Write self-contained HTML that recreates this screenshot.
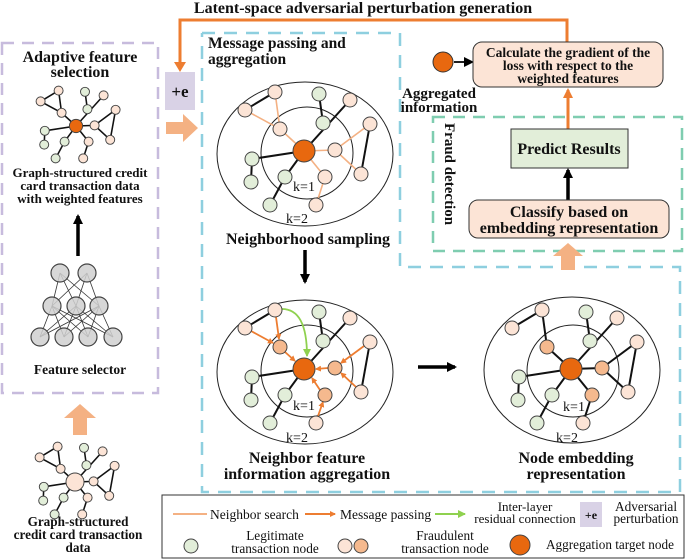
<!DOCTYPE html>
<html><head><meta charset="utf-8"><style>
html,body{margin:0;padding:0;background:#fff}
svg{display:block}
text{font-family:"Liberation Serif",serif;fill:#111}
.b{font-weight:bold}
</style></head><body>
<svg width="685" height="559" viewBox="0 0 685 559" xmlns="http://www.w3.org/2000/svg">
<defs>
<marker id="mo" markerWidth="6" markerHeight="6" refX="5" refY="3" orient="auto" markerUnits="userSpaceOnUse"><path d="M0,0 L6,3 L0,6z" fill="#ed7d31"/></marker>
<marker id="mg" markerWidth="8" markerHeight="8" refX="7" refY="4" orient="auto" markerUnits="userSpaceOnUse"><path d="M0,0 L8,4 L0,8z" fill="#8fd14f"/></marker>
<marker id="mk" markerWidth="10" markerHeight="10" refX="8" refY="5" orient="auto" markerUnits="userSpaceOnUse"><path d="M0,0 L10,5 L0,10z" fill="#000"/></marker>
<marker id="mo2" markerWidth="10" markerHeight="10" refX="8" refY="5" orient="auto" markerUnits="userSpaceOnUse"><path d="M0,0 L10,5 L0,10z" fill="#ed7d31"/></marker>
</defs>

<text x="363" y="13" text-anchor="middle" class="b" font-size="16">Latent-space adversarial perturbation generation</text>
<polyline points="180,64 180,20 567,20 567,42" fill="none" stroke="#ed7d31" stroke-width="3"/>
<path d="M174,62 L186,62 L180,72z" fill="#ed7d31"/>

<rect x="2" y="43" width="156" height="350" fill="none" stroke="#c7bbdd" stroke-width="2.5" stroke-dasharray="12,8"/>
<text x="80" y="62" text-anchor="middle" class="b" font-size="16">Adaptive feature</text>
<text x="80" y="77" text-anchor="middle" class="b" font-size="16">selection</text>

<g transform="translate(76,126) scale(0.6)" stroke="#111" stroke-width="2.6">
<line x1="-59" y1="-41" x2="-29" y2="-59"/><line x1="-29" y1="-59" x2="-24" y2="-22"/><line x1="-59" y1="-41" x2="-24" y2="-22"/><line x1="-24" y1="-22" x2="0" y2="0"/>
<line x1="15" y1="-57" x2="19" y2="-28"/><line x1="0" y1="0" x2="46" y2="-51"/><line x1="0" y1="0" x2="31" y2="-1"/><line x1="31" y1="-1" x2="66" y2="-27"/><line x1="31" y1="-1" x2="57" y2="23"/><line x1="66" y1="-27" x2="57" y2="23"/>
<line x1="0" y1="0" x2="21" y2="26"/><line x1="21" y1="26" x2="12" y2="54"/><line x1="0" y1="0" x2="-19" y2="26"/><line x1="-19" y1="26" x2="-34" y2="54"/><line x1="0" y1="0" x2="-52" y2="8"/><line x1="-52" y1="8" x2="-53" y2="31"/>
<g stroke="#444" stroke-width="1.6">
<circle cx="-59" cy="-41" r="7.5" fill="#fce4d6"/><circle cx="-29" cy="-59" r="7.5" fill="#fce4d6"/><circle cx="-24" cy="-22" r="7.5" fill="#fce4d6"/>
<circle cx="15" cy="-57" r="7.5" fill="#e2eed9"/><circle cx="19" cy="-28" r="7.5" fill="#e2eed9"/><circle cx="46" cy="-51" r="7.5" fill="#fce4d6"/>
<circle cx="66" cy="-27" r="7.5" fill="#fce4d6"/><circle cx="31" cy="-1" r="7.5" fill="#fce4d6"/><circle cx="57" cy="23" r="7.5" fill="#fce4d6"/>
<circle cx="21" cy="26" r="7.5" fill="#fce4d6"/><circle cx="12" cy="54" r="7.5" fill="#fce4d6"/><circle cx="-19" cy="26" r="7.5" fill="#e2eed9"/>
<circle cx="-34" cy="54" r="7.5" fill="#e2eed9"/><circle cx="-52" cy="8" r="7.5" fill="#e2eed9"/><circle cx="-53" cy="31" r="7.5" fill="#e2eed9"/>
<circle cx="0" cy="0" r="11" fill="#e8680f"/>
</g></g>
<text x="80" y="177" text-anchor="middle" class="b" font-size="13">Graph-structured credit</text>
<text x="80" y="190" text-anchor="middle" class="b" font-size="13">card transaction data</text>
<text x="80" y="203" text-anchor="middle" class="b" font-size="13">with weighted features</text>
<line x1="78" y1="256" x2="78" y2="216" stroke="#000" stroke-width="3.5" marker-end="url(#mk)"/>

<g stroke="#333" stroke-width="0.8">
<line x1="60" y1="273" x2="52" y2="306"/><line x1="60" y1="273" x2="76" y2="306"/><line x1="60" y1="273" x2="99" y2="306"/>
<line x1="87" y1="273" x2="52" y2="306"/><line x1="87" y1="273" x2="76" y2="306"/><line x1="87" y1="273" x2="99" y2="306"/>
<line x1="52" y1="306" x2="40" y2="337"/><line x1="52" y1="306" x2="64" y2="337"/><line x1="52" y1="306" x2="88" y2="337"/><line x1="52" y1="306" x2="113" y2="337"/>
<line x1="76" y1="306" x2="40" y2="337"/><line x1="76" y1="306" x2="64" y2="337"/><line x1="76" y1="306" x2="88" y2="337"/><line x1="76" y1="306" x2="113" y2="337"/>
<line x1="99" y1="306" x2="40" y2="337"/><line x1="99" y1="306" x2="64" y2="337"/><line x1="99" y1="306" x2="88" y2="337"/><line x1="99" y1="306" x2="113" y2="337"/>
<g fill="#d0d0d0" stroke="#444" stroke-width="1.2" fill-opacity="0.85">
<circle cx="60" cy="273" r="9"/><circle cx="87" cy="273" r="9"/>
<circle cx="52" cy="306" r="9"/><circle cx="76" cy="306" r="9"/><circle cx="99" cy="306" r="9"/>
<circle cx="40" cy="337" r="9"/><circle cx="64" cy="337" r="9"/><circle cx="88" cy="337" r="9"/><circle cx="113" cy="337" r="9"/>
</g></g>
<text x="80" y="374" text-anchor="middle" class="b" font-size="13.5">Feature selector</text>

<path d="M73,435 L73,418 L64,418 L80,404 L96,418 L87,418 L87,435z" fill="#f4b183"/>

<g transform="translate(75,482) scale(0.6)" stroke="#111" stroke-width="2.6">
<line x1="-59" y1="-41" x2="-29" y2="-59"/><line x1="-29" y1="-59" x2="-24" y2="-22"/><line x1="-59" y1="-41" x2="-24" y2="-22"/><line x1="-24" y1="-22" x2="0" y2="0"/>
<line x1="15" y1="-57" x2="19" y2="-28"/><line x1="0" y1="0" x2="46" y2="-51"/><line x1="0" y1="0" x2="31" y2="-1"/><line x1="31" y1="-1" x2="66" y2="-27"/><line x1="31" y1="-1" x2="57" y2="23"/><line x1="66" y1="-27" x2="57" y2="23"/>
<line x1="0" y1="0" x2="21" y2="26"/><line x1="21" y1="26" x2="12" y2="54"/><line x1="0" y1="0" x2="-19" y2="26"/><line x1="-19" y1="26" x2="-34" y2="54"/><line x1="0" y1="0" x2="-52" y2="8"/><line x1="-52" y1="8" x2="-53" y2="31"/>
<g stroke="#444" stroke-width="1.6">
<circle cx="-59" cy="-41" r="7.5" fill="#fce4d6"/><circle cx="-29" cy="-59" r="7.5" fill="#fce4d6"/><circle cx="-24" cy="-22" r="7.5" fill="#fce4d6"/>
<circle cx="15" cy="-57" r="7.5" fill="#e2eed9"/><circle cx="19" cy="-28" r="7.5" fill="#e2eed9"/><circle cx="46" cy="-51" r="7.5" fill="#fce4d6"/>
<circle cx="66" cy="-27" r="7.5" fill="#fce4d6"/><circle cx="31" cy="-1" r="7.5" fill="#fce4d6"/><circle cx="57" cy="23" r="7.5" fill="#fce4d6"/>
<circle cx="21" cy="26" r="7.5" fill="#fce4d6"/><circle cx="12" cy="54" r="7.5" fill="#fce4d6"/><circle cx="-19" cy="26" r="7.5" fill="#e2eed9"/>
<circle cx="-34" cy="54" r="7.5" fill="#e2eed9"/><circle cx="-52" cy="8" r="7.5" fill="#e2eed9"/><circle cx="-53" cy="31" r="7.5" fill="#e2eed9"/>
<circle cx="0" cy="0" r="15" fill="#fce4d6"/>
</g></g>
<text x="78" y="526" text-anchor="middle" class="b" font-size="13.2">Graph-structured</text>
<text x="78" y="539" text-anchor="middle" class="b" font-size="13.2">credit card transaction</text>
<text x="78" y="552" text-anchor="middle" class="b" font-size="13.2">data</text>

<rect x="165" y="72" width="30" height="38" fill="#d9d2e6"/>
<text x="180" y="97" text-anchor="middle" class="b" font-size="17">+e</text>
<path d="M166,122 L183,122 L183,114 L198,128 L183,142 L183,134 L166,134z" fill="#f4b183"/>

<polyline points="202,33 400,33 400,267 680,267 680,492 202,492 202,33" fill="none" stroke="#8ecfdf" stroke-width="2.5" stroke-dasharray="13,9"/>
<text x="208" y="48" class="b" font-size="15.5">Message passing and</text>
<text x="208" y="64" class="b" font-size="15.5">aggregation</text>

<g transform="translate(304,151)">
<ellipse cx="1" cy="3" rx="88" ry="72" fill="none" stroke="#222" stroke-width="1"/>
<circle cx="3" cy="2" r="46" fill="none" stroke="#222" stroke-width="1"/>
<g stroke="#111" stroke-width="2">
<line x1="-59" y1="-41" x2="-29" y2="-59"/><line x1="15" y1="-57" x2="19" y2="-28"/><line x1="0" y1="0" x2="46" y2="-51"/><line x1="66" y1="-27" x2="57" y2="23"/>
<line x1="0" y1="0" x2="-19" y2="26"/><line x1="-19" y1="26" x2="-34" y2="54"/><line x1="0" y1="0" x2="-52" y2="8"/><line x1="-52" y1="8" x2="-53" y2="31"/>
</g>
<g stroke="#f4b183" stroke-width="1.6">
<line x1="-29" y1="-59" x2="-24" y2="-22"/><line x1="-59" y1="-41" x2="-24" y2="-22"/><line x1="-24" y1="-22" x2="0" y2="0"/>
<line x1="0" y1="0" x2="31" y2="-1"/><line x1="31" y1="-1" x2="66" y2="-27"/><line x1="31" y1="-1" x2="57" y2="23"/>
<line x1="0" y1="0" x2="21" y2="26"/><line x1="21" y1="26" x2="12" y2="54"/>
</g>
<g stroke="#444" stroke-width="1">
<circle cx="-59" cy="-41" r="7" fill="#fce4d6"/><circle cx="-29" cy="-59" r="7" fill="#fce4d6"/><circle cx="-24" cy="-22" r="7" fill="#fce4d6"/>
<circle cx="15" cy="-57" r="7" fill="#e2eed9"/><circle cx="19" cy="-28" r="7" fill="#e2eed9"/><circle cx="46" cy="-51" r="7" fill="#fce4d6"/>
<circle cx="66" cy="-27" r="7" fill="#fce4d6"/><circle cx="31" cy="-1" r="7" fill="#fce4d6"/><circle cx="57" cy="23" r="7" fill="#fce4d6"/>
<circle cx="21" cy="26" r="7" fill="#fce4d6"/><circle cx="12" cy="54" r="7" fill="#fce4d6"/><circle cx="-19" cy="26" r="7" fill="#e2eed9"/>
<circle cx="-34" cy="54" r="7" fill="#e2eed9"/><circle cx="-52" cy="8" r="7" fill="#e2eed9"/><circle cx="-53" cy="31" r="7" fill="#e2eed9"/>
<circle cx="0" cy="0" r="11" fill="#e8680f"/>
</g>
<text x="0" y="40" text-anchor="middle" font-size="14">k=1</text>
<text x="-7" y="72" text-anchor="middle" font-size="14">k=2</text>
</g>
<text x="308" y="244" text-anchor="middle" class="b" font-size="16">Neighborhood sampling</text>
<line x1="305" y1="250" x2="305" y2="282" stroke="#000" stroke-width="3.5" marker-end="url(#mk)"/>

<g transform="translate(304,369)">
<ellipse cx="1" cy="3" rx="88" ry="72" fill="none" stroke="#222" stroke-width="1"/>
<circle cx="3" cy="2" r="46" fill="none" stroke="#222" stroke-width="1"/>
<g stroke="#111" stroke-width="2">
<line x1="-59" y1="-41" x2="-29" y2="-59"/><line x1="15" y1="-57" x2="19" y2="-28"/><line x1="0" y1="0" x2="46" y2="-51"/><line x1="66" y1="-27" x2="57" y2="23"/>
<line x1="0" y1="0" x2="-19" y2="26"/><line x1="-19" y1="26" x2="-34" y2="54"/><line x1="0" y1="0" x2="-52" y2="8"/><line x1="-52" y1="8" x2="-53" y2="31"/>
</g>
<g stroke="#ed7d31" stroke-width="1.8">
<line x1="-53" y1="-38" x2="-31" y2="-26" marker-end="url(#mo)"/>
<line x1="-28" y1="-52" x2="-25" y2="-30" marker-end="url(#mo)"/>
<line x1="-19" y1="-17" x2="-9" y2="-8" marker-end="url(#mo)"/>
<line x1="60" y1="-23" x2="37" y2="-6" marker-end="url(#mo)"/>
<line x1="52" y1="18" x2="37" y2="4" marker-end="url(#mo)"/>
<line x1="24" y1="-1" x2="12" y2="0" marker-end="url(#mo)"/>
<line x1="14" y1="47" x2="19" y2="33" marker-end="url(#mo)"/>
<line x1="16" y1="21" x2="8" y2="9" marker-end="url(#mo)"/>
</g>
<path d="M-22,-60 Q3,-60 3,-13" fill="none" stroke="#8fd14f" stroke-width="1.8" marker-end="url(#mg)"/>
<g stroke="#444" stroke-width="1">
<circle cx="-59" cy="-41" r="7" fill="#fce4d6"/><circle cx="-29" cy="-59" r="7" fill="#fce4d6"/><circle cx="-24" cy="-22" r="7" fill="#f5b98e"/>
<circle cx="15" cy="-57" r="7" fill="#e2eed9"/><circle cx="19" cy="-28" r="7" fill="#e2eed9"/><circle cx="46" cy="-51" r="7" fill="#fce4d6"/>
<circle cx="66" cy="-27" r="7" fill="#fce4d6"/><circle cx="31" cy="-1" r="7" fill="#f5b98e"/><circle cx="57" cy="23" r="7" fill="#fce4d6"/>
<circle cx="21" cy="26" r="7" fill="#f5b98e"/><circle cx="12" cy="54" r="7" fill="#fce4d6"/><circle cx="-19" cy="26" r="7" fill="#e2eed9"/>
<circle cx="-34" cy="54" r="7" fill="#e2eed9"/><circle cx="-52" cy="8" r="7" fill="#e2eed9"/><circle cx="-53" cy="31" r="7" fill="#e2eed9"/>
<circle cx="0" cy="0" r="11" fill="#e8680f"/>
</g>
<text x="0" y="41" text-anchor="middle" font-size="14">k=1</text>
<text x="-7" y="73" text-anchor="middle" font-size="14">k=2</text>
</g>
<text x="307" y="463" text-anchor="middle" class="b" font-size="16">Neighbor feature</text>
<text x="307" y="479" text-anchor="middle" class="b" font-size="16">information aggregation</text>
<line x1="418" y1="367" x2="455" y2="367" stroke="#000" stroke-width="3.5" marker-end="url(#mk)"/>

<g transform="translate(571,369)">
<ellipse cx="1" cy="1" rx="88" ry="73" fill="none" stroke="#222" stroke-width="1"/>
<circle cx="2" cy="2" r="46" fill="none" stroke="#222" stroke-width="1"/>
<g stroke="#111" stroke-width="2">
<line x1="-59" y1="-41" x2="-29" y2="-59"/><line x1="-29" y1="-59" x2="-24" y2="-22"/><line x1="-24" y1="-22" x2="0" y2="0"/>
<line x1="15" y1="-57" x2="19" y2="-28"/><line x1="0" y1="0" x2="46" y2="-51"/><line x1="0" y1="0" x2="31" y2="-1"/><line x1="31" y1="-1" x2="66" y2="-27"/><line x1="31" y1="-1" x2="57" y2="23"/><line x1="66" y1="-27" x2="57" y2="23"/>
<line x1="0" y1="0" x2="21" y2="26"/><line x1="21" y1="26" x2="12" y2="54"/><line x1="0" y1="0" x2="-19" y2="26"/><line x1="-19" y1="26" x2="-34" y2="54"/><line x1="0" y1="0" x2="-52" y2="8"/><line x1="-52" y1="8" x2="-53" y2="31"/>
</g>
<g stroke="#444" stroke-width="1">
<circle cx="-59" cy="-41" r="7" fill="#fce4d6"/><circle cx="-29" cy="-59" r="7" fill="#fce4d6"/><circle cx="-24" cy="-22" r="7" fill="#f5b98e"/>
<circle cx="15" cy="-57" r="7" fill="#e2eed9"/><circle cx="19" cy="-28" r="7" fill="#e2eed9"/><circle cx="46" cy="-51" r="7" fill="#fce4d6"/>
<circle cx="66" cy="-27" r="7" fill="#fce4d6"/><circle cx="31" cy="-1" r="7" fill="#f5b98e"/><circle cx="57" cy="23" r="7" fill="#fce4d6"/>
<circle cx="21" cy="26" r="7" fill="#f5b98e"/><circle cx="12" cy="54" r="7" fill="#fce4d6"/><circle cx="-19" cy="26" r="7" fill="#e2eed9"/>
<circle cx="-34" cy="54" r="7" fill="#e2eed9"/><circle cx="-52" cy="8" r="7" fill="#e2eed9"/><circle cx="-53" cy="31" r="7" fill="#e2eed9"/>
<circle cx="0" cy="0" r="11" fill="#e8680f"/>
</g>
<text x="3" y="42" text-anchor="middle" font-size="14">k=1</text>
<text x="-4" y="73" text-anchor="middle" font-size="14">k=2</text>
</g>
<text x="576" y="463" text-anchor="middle" class="b" font-size="16">Node embedding</text>
<text x="576" y="479" text-anchor="middle" class="b" font-size="16">representation</text>

<circle cx="443" cy="62" r="10" fill="#e8680f" stroke="#333" stroke-width="1"/>
<line x1="454" y1="62" x2="472" y2="62" stroke="#000" stroke-width="1.8" marker-end="url(#mk)"/>
<text x="439" y="98" text-anchor="middle" class="b" font-size="15">Aggregated</text>
<text x="439" y="112" text-anchor="middle" class="b" font-size="15">information</text>
<rect x="473" y="42" width="190" height="45" rx="9" fill="#fce4d6" stroke="#333" stroke-width="1"/>
<text x="568" y="57" text-anchor="middle" class="b" font-size="13.5">Calculate the gradient of the</text>
<text x="568" y="70" text-anchor="middle" class="b" font-size="13.5">loss with respect to the</text>
<text x="568" y="83" text-anchor="middle" class="b" font-size="13.5">weighted features</text>

<rect x="433" y="117" width="249" height="134" fill="none" stroke="#7fcdb0" stroke-width="2.5" stroke-dasharray="12,8"/>
<text transform="translate(445,123) rotate(90)" class="b" font-size="15">Fraud detection</text>
<line x1="568" y1="130" x2="568" y2="90" stroke="#ed7d31" stroke-width="3" marker-end="url(#mo2)"/>
<rect x="511" y="129" width="117" height="39" fill="#e2eed9" stroke="#333" stroke-width="1"/>
<text x="569" y="154" text-anchor="middle" class="b" font-size="16">Predict Results</text>
<line x1="568" y1="200" x2="568" y2="170" stroke="#000" stroke-width="3.5" marker-end="url(#mk)"/>
<rect x="469" y="200" width="200" height="38" rx="9" fill="#fce4d6" stroke="#333" stroke-width="1"/>
<text x="569" y="217" text-anchor="middle" class="b" font-size="16">Classify based on</text>
<text x="569" y="233" text-anchor="middle" class="b" font-size="16">embedding representation</text>
<path d="M561,270 L561,256 L553,256 L568,243 L583,256 L575,256 L575,270z" fill="#f4b183"/>

<rect x="162" y="495" width="522" height="63" fill="#fff" stroke="#333" stroke-width="1"/>
<line x1="173" y1="514" x2="207" y2="514" stroke="#f4b183" stroke-width="2"/>
<text x="210" y="519" font-size="13.5">Neighbor search</text>
<line x1="305" y1="514" x2="335" y2="514" stroke="#ed7d31" stroke-width="2" marker-end="url(#mo)"/>
<text x="340" y="519" font-size="13.5">Message passing</text>
<line x1="435" y1="514" x2="465" y2="514" stroke="#8fd14f" stroke-width="2" marker-end="url(#mg)"/>
<text x="525" y="511" text-anchor="middle" font-size="13">Inter-layer</text>
<text x="525" y="523" text-anchor="middle" font-size="13">residual connection</text>
<rect x="580" y="502" width="22" height="25" fill="#d9d2e6"/>
<text x="591" y="519" text-anchor="middle" class="b" font-size="12">+e</text>
<text x="646" y="511" text-anchor="middle" font-size="13.3">Adversarial</text>
<text x="646" y="523" text-anchor="middle" font-size="13.3">perturbation</text>
<circle cx="191" cy="546" r="7" fill="#e2eed9" stroke="#444"/>
<text x="275" y="540" text-anchor="middle" font-size="13.3">Legitimate</text>
<text x="275" y="553" text-anchor="middle" font-size="13.3">transaction node</text>
<circle cx="345" cy="546" r="7" fill="#fce4d6" stroke="#444"/>
<circle cx="361" cy="546" r="7" fill="#f5b98e" stroke="#444"/>
<text x="445" y="540" text-anchor="middle" font-size="13.3">Fraudulent</text>
<text x="445" y="553" text-anchor="middle" font-size="13.3">transaction node</text>
<circle cx="520" cy="545" r="10" fill="#e8680f" stroke="#444"/>
<text x="546" y="549" font-size="13.2">Aggregation target node</text>
</svg>
</body></html>
